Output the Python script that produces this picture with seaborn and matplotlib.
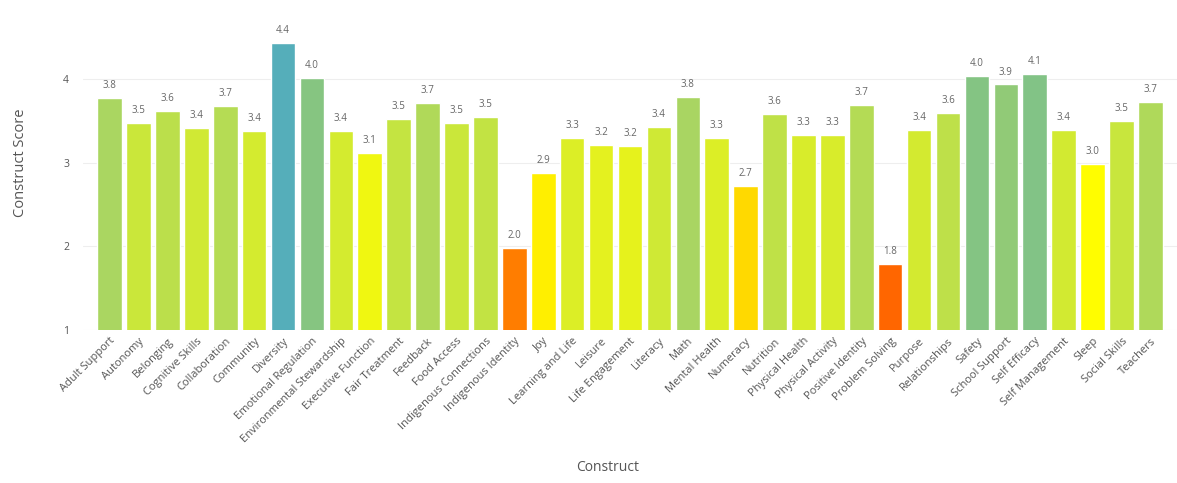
import numpy as np
import pandas as pd
import matplotlib
matplotlib.use("Agg")
import matplotlib.pyplot as plt
import seaborn as sns
from matplotlib.colors import LinearSegmentedColormap

constructs = [
    "Adult Support", "Autonomy", "Belonging", "Cognitive Skills", "Collaboration",
    "Community", "Diversity", "Emotional Regulation", "Environmental Stewardship",
    "Executive Function", "Fair Treatment", "Feedback", "Food Access",
    "Indigenous Connections", "Indigenous Identity", "Joy", "Learning and Life",
    "Leisure", "Life Engagement", "Literacy", "Math", "Mental Health", "Numeracy",
    "Nutrition", "Physical Health", "Physical Activity", "Positive Identity",
    "Problem Solving", "Purpose", "Relationships", "Safety", "School Support",
    "Self Efficacy", "Self Management", "Sleep", "Social Skills", "Teachers",
]
scores = [
    3.78, 3.48, 3.62, 3.42, 3.68, 3.38, 4.44, 4.02, 3.38, 3.12,
    3.53, 3.72, 3.48, 3.55, 1.98, 2.88, 3.30, 3.22, 3.20, 3.43,
    3.79, 3.30, 2.72, 3.59, 3.34, 3.34, 3.69, 1.79, 3.39, 3.60,
    4.04, 3.94, 4.07, 3.40, 2.99, 3.50, 3.73,
]

df = pd.DataFrame({"construct": constructs, "score": scores})

# colour scale: orange (low) -> yellow -> green -> teal (high)
anchors = [(1.8, "#ff6600"), (2.0, "#ff8000"), (2.7, "#ffd700"), (3.0, "#ffff00"),
           (3.2, "#e6f21c"), (3.5, "#c8e63c"), (3.8, "#a8d563"), (4.0, "#88c67f"),
           (4.1, "#80c288"), (4.45, "#55aeba")]
lo, hi = anchors[0][0], anchors[-1][0]
cmap = LinearSegmentedColormap.from_list(
    "score", [((v - lo) / (hi - lo), c) for v, c in anchors])
colors = [cmap(np.clip((s - lo) / (hi - lo), 0, 1)) for s in df["score"]]

sns.set_style("white")
plt.rcParams["font.family"] = ["Open Sans", "DejaVu Sans"]

fig = plt.figure(figsize=(11.77, 4.83), dpi=100)
ax = fig.add_axes([0.0705, 0.3168, 0.9295, 0.6915])

sns.barplot(data=df, x="construct", y="score", hue="construct",
            palette=colors, legend=False, width=0.85, saturation=1, ax=ax)

for cont in ax.containers:
    ax.bar_label(cont, fmt="%.1f", padding=5, fontsize=7, color="#666666")

ax.set_ylim(1, 5)
ax.set_xlim(-0.92, len(constructs) - 0.08)
ax.set_yticks([1, 2, 3, 4, 5])
ax.yaxis.grid(True, color="#eeeeee", linewidth=0.8)
ax.set_axisbelow(True)
for sp in ax.spines.values():
    sp.set_visible(False)

ax.tick_params(axis="y", length=0, labelsize=7.5, labelcolor="#555555", pad=10)
ax.tick_params(axis="x", length=0, labelsize=8, labelcolor="#555555", pad=4)
plt.setp(ax.get_xticklabels(), rotation=45, ha="right", rotation_mode="anchor")

ax.set_xlabel("Construct", fontsize=10, color="#555555", labelpad=0)
ax.xaxis.set_label_coords(0.48, -0.39)
ax.set_ylabel("Construct Score", fontsize=10.5, color="#555555")
ax.yaxis.set_label_coords(-0.05, 0.5)

fig.savefig("out.png", dpi=100)
